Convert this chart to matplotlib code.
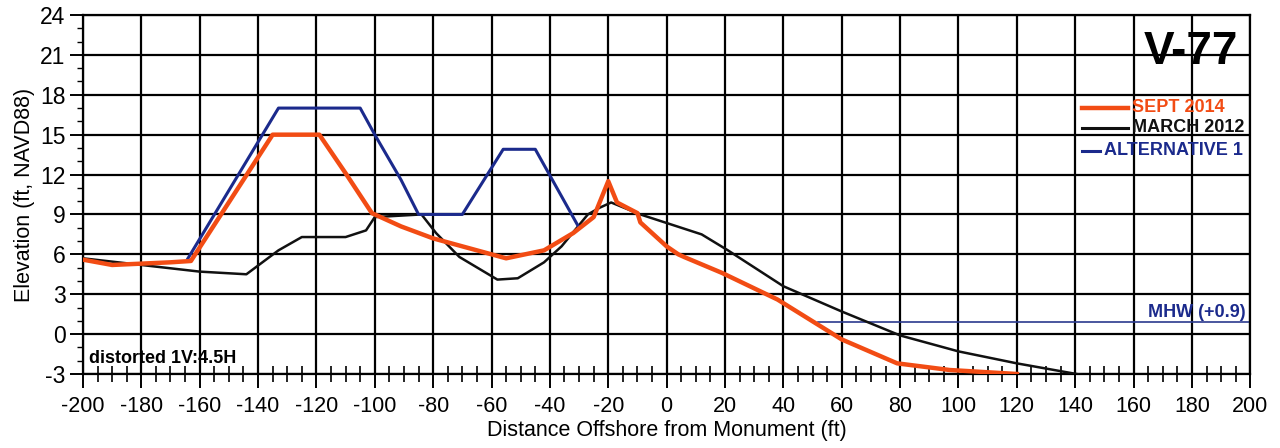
import matplotlib
matplotlib.use('Agg')
import matplotlib.pyplot as plt
from matplotlib.ticker import MultipleLocator
from matplotlib.lines import Line2D

plt.rcParams['font.family'] = ['Liberation Sans', 'DejaVu Sans']
plt.rcParams['axes.unicode_minus'] = False

# Beach profile surveys (distance offshore in ft, elevation in ft NAVD88)
sept2014_x = [-200, -190, -180, -170, -163, -135, -119, -110, -101, -91, -80, -75, -65,
              -55, -42, -32, -25, -20, -17, -10, -9, 0, 4, 6, 19, 38, 60, 79, 97, 120]
sept2014_y = [5.6, 5.2, 5.3, 5.4, 5.5, 15.0, 15.0, 12.1, 9.1, 8.1, 7.2, 6.9, 6.3,
              5.7, 6.3, 7.6, 8.8, 11.5, 9.9, 9.1, 8.4, 6.6, 6.0, 5.8, 4.6, 2.6, -0.4, -2.2, -2.7, -3.0]

march2012_x = [-200, -180, -160, -144, -133, -125, -110, -103, -100, -84, -79, -71, -58,
               -51, -42, -36, -27, -23, -19, -9, 12, 21, 40, 60, 80, 100, 120, 143]
march2012_y = [5.7, 5.2, 4.7, 4.5, 6.3, 7.3, 7.3, 7.8, 8.8, 9.0, 7.6, 5.8, 4.1,
               4.2, 5.4, 6.6, 9.0, 9.5, 9.9, 9.0, 7.5, 6.3, 3.6, 1.7, -0.1, -1.3, -2.2, -3.1]

alt1_x = [-164, -133, -105, -100, -91, -85, -70, -56, -45, -30]
alt1_y = [5.7, 17.0, 17.0, 15.0, 11.6, 9.0, 9.0, 13.9, 13.9, 8.0]

series_labels = ['SEPT 2014', 'MARCH 2012', 'ALTERNATIVE 1']

mhw_level = 0.9
mhw_start = 52

x_ticks = list(range(-200, 201, 20))
y_ticks = list(range(-3, 25, 3))

orange = '#f24c14'
navy = '#1b2a8c'
black = '#111111'

fig = plt.figure(figsize=(12.8, 4.48), dpi=100)
ax = fig.add_axes([0.0648, 0.1652, 0.912, 0.8013])

ax.set_xlim(-200, 200)
ax.set_ylim(-3, 24)
ax.set_xticks(x_ticks)
ax.set_yticks(y_ticks)
ax.xaxis.set_minor_locator(MultipleLocator(5))
ax.yaxis.set_minor_locator(MultipleLocator(1))
ax.grid(True, which='major', color='black', linewidth=1.6, zorder=1)
for s in ax.spines.values():
    s.set_linewidth(1.6)
    s.set_color('black')

ax.tick_params(axis='x', which='major', direction='inout', length=20, width=1.4,
               labelsize=15.5, pad=6)
ax.tick_params(axis='x', which='minor', direction='inout', length=11, width=1.2)
ax.tick_params(axis='y', which='major', direction='out', length=9.5, width=1.4,
               labelsize=16.5, pad=3)
ax.tick_params(axis='y', which='minor', direction='out', length=4, width=1.0)

# Mean high water reference line
ax.plot([mhw_start, 200], [mhw_level, mhw_level], color='#2b3a8e', linewidth=1.2, zorder=2)
ax.text(198.5, 1.6, 'MHW (+0.9)', color=navy, fontsize=13, fontweight='bold',
        ha='right', va='center', zorder=5)

# Profiles
ax.plot(march2012_x, march2012_y, color=black, linewidth=1.8, zorder=3)
ax.plot(alt1_x, alt1_y, color=navy, linewidth=2.2, zorder=3)
ax.plot(sept2014_x, sept2014_y, color=orange, linewidth=3.2, zorder=4,
        solid_joinstyle='round')

# Key, drawn in axes fraction coordinates
key_colors = [orange, black, navy]
key_widths = [3.2, 2.2, 2.2]
key_rows = [0.741, 0.686, 0.622]
key_starts = [0.856, 0.856, 0.856]
key_ends = [0.8955, 0.8955, 0.8715]
for lab, col, lw, yy, x0, x1 in zip(series_labels, key_colors, key_widths,
                                     key_rows, key_starts, key_ends):
    ax.add_line(Line2D([x0, x1], [yy, yy], color=col, linewidth=lw,
                       transform=ax.transAxes, zorder=5))
    ax.text(x1 + 0.003, yy, lab, color=col, fontsize=13, fontweight='bold',
            ha='left', va='center', transform=ax.transAxes, zorder=5)

ax.text(179.5, 21.2, 'V-77', fontsize=33, fontweight='bold', ha='center', va='center', zorder=5)
ax.text(-198, -1.8, 'distorted 1V:4.5H', fontsize=13, fontweight='bold', ha='left',
        va='center', zorder=5)

ax.set_xlabel('Distance Offshore from Monument (ft)', fontsize=15.5, labelpad=2)
ax.set_ylabel('Elevation (ft, NAVD88)', fontsize=15.5, labelpad=4)

fig.savefig('out.png', dpi=100, facecolor='white')
